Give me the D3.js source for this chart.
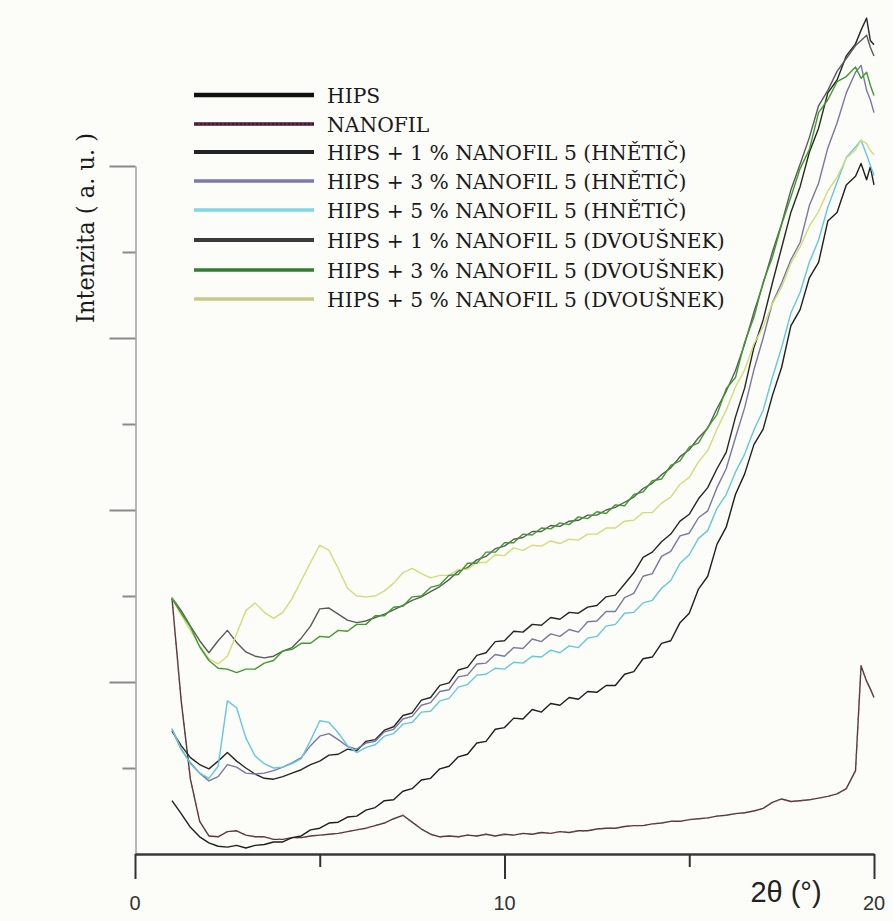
<!DOCTYPE html>
<html>
<head>
<meta charset="utf-8">
<script src="https://cdn.jsdelivr.net/npm/d3@7"></script>
<style>
  html, body { margin: 0; padding: 0; background: #fcfcf8; }
  svg { display: block; }
</style>
</head>
<body>
<svg id="chart" width="893" height="921"></svg>
<script>
// ---- DATA ----
const xs = [1.0,1.25,1.5,1.75,2.0,2.25,2.5,2.75,3.0,3.25,3.5,3.75,4.0,4.25,4.5,4.75,5.0,5.25,5.5,5.75,
  6.0,6.25,6.5,6.75,7.0,7.25,7.5,7.75,8.0,8.25,8.5,8.75,9.0,9.25,9.5,9.75,10.0,10.25,10.5,10.75,
  11.0,11.25,11.5,11.75,12.0,12.25,12.5,12.75,13.0,13.25,13.5,13.75,14.0,14.25,14.5,14.75,15.0,15.25,15.5,15.75,
  16.0,16.25,16.5,16.75,17.0,17.25,17.5,17.75,18.0,18.25,18.5,18.75,19.0,19.25,19.5,19.65,19.8,19.9,20.0];

const hips = [0.62,0.47,0.31,0.20,0.13,0.09,0.08,0.10,0.07,0.10,0.11,0.14,0.14,0.19,0.21,0.28,0.30,0.36,0.37,0.43,
  0.44,0.51,0.54,0.62,0.63,0.73,0.76,0.86,0.88,0.99,1.02,1.13,1.16,1.29,1.31,1.45,1.47,1.58,1.57,1.68,
  1.65,1.75,1.73,1.82,1.80,1.89,1.88,1.96,1.96,2.09,2.12,2.27,2.29,2.45,2.48,2.69,2.80,3.08,3.23,3.60,
  3.80,4.18,4.42,4.76,4.94,5.33,5.66,6.14,6.33,6.70,6.88,7.36,7.46,7.78,7.88,8.03,7.84,7.99,7.78];

const nanofil = [2.98,1.78,0.87,0.38,0.21,0.20,0.26,0.27,0.22,0.20,0.20,0.17,0.17,0.19,0.19,0.21,0.22,0.23,0.24,0.26,
  0.28,0.30,0.33,0.36,0.41,0.45,0.37,0.29,0.23,0.20,0.21,0.20,0.22,0.21,0.23,0.21,0.23,0.22,0.24,0.23,
  0.25,0.24,0.26,0.25,0.27,0.27,0.29,0.30,0.30,0.32,0.33,0.33,0.35,0.36,0.38,0.38,0.40,0.41,0.42,0.44,
  0.45,0.47,0.48,0.50,0.53,0.60,0.64,0.61,0.62,0.63,0.65,0.67,0.70,0.76,0.97,2.19,2.01,1.92,1.82];

const h1 = [1.43,1.26,1.12,1.04,0.99,1.08,1.18,1.08,1.00,0.93,0.88,0.87,0.90,0.94,0.98,1.04,1.08,1.15,1.16,1.22,
  1.20,1.31,1.33,1.44,1.48,1.61,1.64,1.79,1.82,1.96,1.99,2.14,2.17,2.31,2.34,2.47,2.48,2.59,2.58,2.67,
  2.66,2.75,2.73,2.81,2.80,2.87,2.89,2.99,3.01,3.14,3.27,3.45,3.51,3.63,3.72,3.87,3.95,4.13,4.26,4.48,
  4.67,5.08,5.42,5.89,6.21,6.64,7.05,7.46,7.76,8.16,8.44,8.85,9.00,9.28,9.42,9.58,9.72,9.46,9.41];

const h3 = [1.45,1.22,1.06,0.94,0.85,0.90,1.04,1.01,0.94,0.93,0.94,0.97,1.01,1.06,1.12,1.26,1.37,1.40,1.33,1.25,
  1.22,1.29,1.31,1.42,1.45,1.57,1.60,1.73,1.76,1.89,1.91,2.06,2.08,2.21,2.22,2.32,2.30,2.40,2.39,2.50,
  2.47,2.56,2.53,2.61,2.58,2.70,2.71,2.82,2.82,2.98,3.03,3.23,3.26,3.46,3.52,3.70,3.73,3.91,3.99,4.26,
  4.48,4.84,5.19,5.63,6.00,6.41,6.64,6.91,7.11,7.54,7.80,8.21,8.50,8.85,9.09,9.17,8.88,8.77,8.62];

const h5 = [1.46,1.22,1.05,0.94,0.88,1.02,1.78,1.70,1.35,1.14,1.05,1.00,1.01,1.05,1.11,1.32,1.55,1.53,1.41,1.26,
  1.18,1.24,1.27,1.37,1.40,1.51,1.53,1.65,1.66,1.78,1.81,1.94,1.97,2.08,2.09,2.16,2.15,2.23,2.22,2.30,
  2.29,2.37,2.34,2.42,2.40,2.51,2.53,2.65,2.67,2.80,2.81,2.92,2.95,3.09,3.18,3.38,3.48,3.67,3.76,4.02,
  4.18,4.44,4.65,4.93,5.16,5.54,5.89,6.29,6.53,6.88,7.14,7.52,7.81,8.10,8.22,8.30,8.13,8.01,7.89];

const d1 = [2.98,2.83,2.65,2.48,2.34,2.48,2.60,2.46,2.35,2.30,2.28,2.30,2.36,2.40,2.51,2.65,2.85,2.86,2.79,2.72,
  2.69,2.71,2.75,2.79,2.84,2.89,2.95,2.99,3.05,3.11,3.19,3.29,3.33,3.42,3.46,3.55,3.58,3.66,3.68,3.75,
  3.75,3.82,3.81,3.87,3.88,3.94,3.94,4.00,4.03,4.09,4.15,4.25,4.31,4.41,4.49,4.62,4.70,4.84,4.95,5.18,
  5.38,5.62,5.93,6.30,6.63,7.00,7.33,7.72,8.02,8.33,8.70,8.88,9.10,9.25,9.40,9.46,9.52,9.38,9.28];

const d3s = [2.97,2.80,2.64,2.41,2.25,2.16,2.15,2.11,2.15,2.15,2.22,2.25,2.36,2.38,2.45,2.45,2.53,2.52,2.60,2.59,
  2.67,2.67,2.77,2.77,2.87,2.88,2.99,3.00,3.10,3.13,3.24,3.25,3.38,3.38,3.51,3.51,3.62,3.62,3.72,3.71,
  3.79,3.78,3.85,3.83,3.92,3.90,3.98,3.96,4.06,4.05,4.18,4.21,4.34,4.36,4.52,4.57,4.73,4.78,4.96,5.11,
  5.41,5.54,5.95,6.24,6.65,6.94,7.32,7.64,7.97,8.19,8.62,8.77,8.98,9.04,9.15,9.02,9.09,8.94,8.82];

const d5 = [2.98,2.78,2.60,2.42,2.27,2.21,2.30,2.56,2.83,2.92,2.81,2.74,2.81,2.97,3.18,3.39,3.59,3.53,3.32,3.09,
  3.00,2.99,3.00,3.06,3.15,3.27,3.32,3.26,3.21,3.24,3.24,3.31,3.31,3.39,3.39,3.48,3.47,3.56,3.53,3.59,
  3.58,3.64,3.61,3.66,3.65,3.72,3.72,3.79,3.79,3.87,3.88,3.97,3.97,4.08,4.15,4.30,4.38,4.56,4.69,4.94,
  5.16,5.43,5.63,5.93,6.13,6.40,6.59,6.87,7.06,7.30,7.47,7.71,7.87,8.09,8.19,8.30,8.26,8.18,8.13];

const seriesNames = ["HIPS","NANOFIL","HIPS + 1 % NANOFIL 5 (HNĚTIČ)","HIPS + 3 % NANOFIL 5 (HNĚTIČ)",
  "HIPS + 5 % NANOFIL 5 (HNĚTIČ)","HIPS + 1 % NANOFIL 5 (DVOUŠNEK)","HIPS + 3 % NANOFIL 5 (DVOUŠNEK)",
  "HIPS + 5 % NANOFIL 5 (DVOUŠNEK)"];
const seriesValues = [hips, nanofil, h1, h3, h5, d1, d3s, d5];
const xTickValues = [0,5,10,15,20];
const xLabelValues = [0,10,20];
const xLabelTexts = ["0","10","20"];
const yTickValues = [1,2,3,4,5,6,7,8];
const xTitle = "2θ (°)";
const yTitle = "Intenzita ( a. u. )";

// ---- STYLE ----
const lineColors   = ["#1e1e1e","#484040","#262626","#7878a0","#62c8dc","#5a5a5a","#3f9a2c","#d2dc78"];
const legendColors = ["#111111","#3a1c3a","#1f2326","#7a78b0","#7fd6e6","#3a3a3a","#2f7f2f","#c8c88a"];
const legendWidths = [4.5,3.5,4,3.5,3.5,4,3.5,3.5];
const drawOrder = [1,0,2,3,4,5,7,6];

const svg = d3.select("#chart");
svg.append("rect").attr("width",893).attr("height",921).attr("fill","#fcfcf8");

const x = d3.scaleLinear().domain([0,20]).range([135,874]);
const y = d3.scaleLinear().domain([0,8]).range([854,166]);

// y axis
const yAx = svg.append("g").attr("transform","translate(135.5,0)")
  .call(d3.axisLeft(y).tickValues(yTickValues).tickFormat("").tickSizeOuter(0));
yAx.select(".domain").attr("stroke","#b8b8b8").attr("stroke-width",2);
yAx.selectAll(".tick line").attr("stroke","#8a8a8a").attr("stroke-width",2)
  .attr("x2", d => d % 2 === 0 ? -26 : -13);

// x axis (ticks via d3 axis, labels as explicit text positioned by the scale)
const xAx = svg.append("g").attr("transform","translate(0,854)")
  .call(d3.axisBottom(x).tickValues(xTickValues).tickFormat("").tickSizeOuter(0));
xAx.select(".domain").attr("stroke","#3a3a3a").attr("stroke-width",2.5);
xAx.selectAll(".tick line").attr("stroke","#333").attr("stroke-width",2)
  .attr("y2", d => d % 10 === 0 ? 25 : 13);
svg.append("g").selectAll("text").data(xLabelValues).join("text")
  .attr("x", d => x(d)).attr("y", 910).attr("text-anchor","middle")
  .style("font-family","'Liberation Sans', Arial, sans-serif").style("font-size","20px")
  .attr("fill","#333").text((d,i) => xLabelTexts[i]);

// curves
const line = d3.line().x(d => x(d[0])).y(d => y(d[1]));
drawOrder.forEach(i => {
  const vals = seriesValues[i];
  if (vals.length !== xs.length) console.error("length mismatch", seriesNames[i], vals.length);
  const pts = xs.map((xv, k) => [xv, vals[k]]).filter(p => p[1] !== undefined);
  svg.append("path").datum(pts).attr("d", line)
    .attr("fill","none").attr("stroke", lineColors[i]).attr("stroke-width",1.4)
    .attr("stroke-linejoin","round");
  if (i === 1) {
    svg.append("path").datum(pts).attr("d", line)
      .attr("fill","none").attr("stroke","#c83030").attr("stroke-width",1.2)
      .attr("stroke-dasharray","2,7");
  }
});

// legend
const legendY = [95,124,152,181,210,240,270,299];
const leg = svg.append("g");
seriesNames.forEach((name, i) => {
  leg.append("line").attr("x1",194).attr("x2",314).attr("y1",legendY[i]).attr("y2",legendY[i])
    .attr("stroke",legendColors[i]).attr("stroke-width",legendWidths[i]);
  if (i === 1) {
    leg.append("line").attr("x1",194).attr("x2",314).attr("y1",legendY[i]).attr("y2",legendY[i])
      .attr("stroke","#c02828").attr("stroke-width",1.2).attr("stroke-dasharray","2,2");
  }
  leg.append("text").attr("x",327).attr("y",legendY[i] + 1).attr("dy","0.35em")
    .style("font-family","'DejaVu Serif', serif").style("font-size","20.3px").attr("fill","#1a1a1a")
    .text(name);
});

// titles
svg.append("text").attr("transform","translate(94,228) rotate(-90)").attr("text-anchor","middle")
  .style("font-family","'DejaVu Serif Condensed', 'DejaVu Serif', serif").style("font-stretch","condensed")
  .style("font-size","25px").attr("fill","#1a1a1a").text(yTitle);
svg.append("text").attr("x",786).attr("y",902).attr("text-anchor","middle")
  .style("font-family","'Liberation Sans', Arial, sans-serif").style("font-size","29px")
  .attr("fill","#222").text(xTitle);
</script>
</body>
</html>
